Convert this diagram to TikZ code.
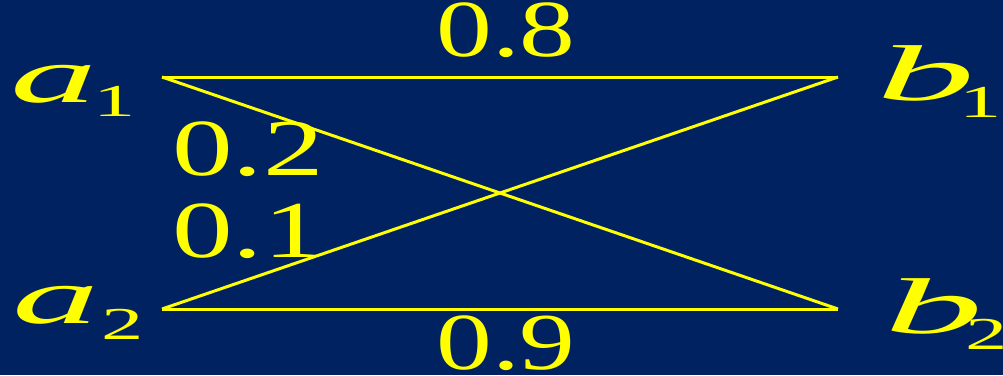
\documentclass[tikz,border=0pt]{standalone}
\usepackage{fontspec}
\usepackage{graphicx}
\setmainfont{Liberation Serif}
\newfontfamily\romanfam{Liberation Serif}
\usetikzlibrary{positioning}
\definecolor{night}{RGB}{0,34,96}
\definecolor{lemon}{RGB}{255,255,0}
\newcommand{\xwide}[2]{\scalebox{#1}[1]{#2}}
\newcommand{\sublab}[2]{\raisebox{#1}{\romanfam\fontsize{26}{26}\selectfont\upshape\xwide{1.85}{#2}}}
\tikzset{
  wire/.style={draw=lemon,line width=1.7pt},
  val/.style={text=lemon,inner sep=0pt,anchor=base,font=\romanfam\fontsize{46}{48}\selectfont},
  vert/.style={text=lemon,inner sep=0pt,anchor=base west,font=\romanfam\fontsize{45}{48}\selectfont\itshape},
}

\begin{document}
\begin{tikzpicture}[x=0.2mm,y=-0.2mm]
  \fill[night] (0,0) rectangle (1003,375);
  \useasboundingbox (0,0) rectangle (1003,375);
  % ends of the links
  \coordinate (pa1) at (162,77);
  \coordinate (pa2) at (162,309);
  \coordinate (pb1) at (838,77);
  \coordinate (pb2) at (838,309);
  % vertices
  \node[vert] (a1) at (10,102) {\xwide{2.2}{a}\hspace{-2pt}\sublab{-8.5pt}{1}};
  \node[vert] (a2) at (12,323) {\xwide{2.2}{a}\hspace{1.5pt}\sublab{-9.6pt}{2}};
  \node[vert] (b1) at (876,100) {\xwide{2.5}{b}\hspace{-9pt}\sublab{-10.2pt}{1}};
  \node[vert] (b2) at (884,333) {\xwide{2.5}{b}\hspace{-10pt}\sublab{-9.6pt}{2}};
  % links
  \draw[wire] (pa1) -- (pb1);
  \draw[wire] (pa2) -- (pb2);
  \draw[wire] (pa1) -- (pb2);
  \draw[wire] (pa2) -- (pb1);
  % weights
  \node[val] (w11) at (506,56) {\xwide{1.38}{0.8}};
  \node[val] (w22) at (506,369) {\xwide{1.38}{0.9}};
  \node[val,anchor=base west] (w12) at (172,175) {\xwide{1.5}{0.2}};
  \node[val,anchor=base west] (w21) at (172,257) {\xwide{1.5}{0.1}};
\end{tikzpicture}
\end{document}
